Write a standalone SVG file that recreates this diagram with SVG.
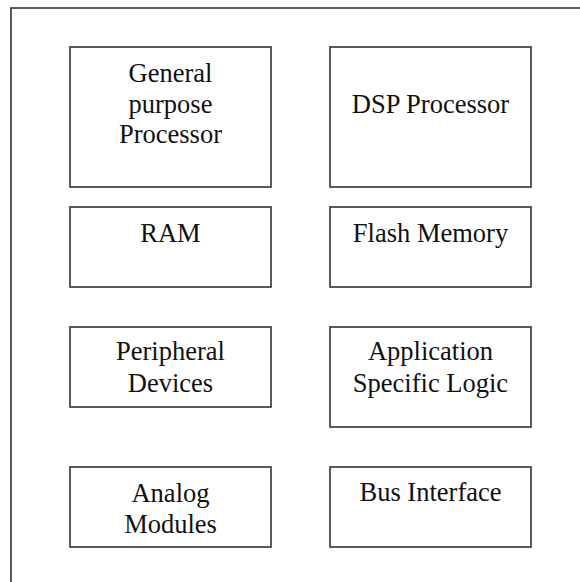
<svg xmlns="http://www.w3.org/2000/svg" width="580" height="582" viewBox="0 0 580 582">
<style>
.frame{fill:none;stroke:#333;stroke-width:1.6}
.box{fill:#fff;stroke:#333;stroke-width:1.6}
.t{font-family:"Liberation Serif","Times New Roman",serif;font-size:26.5px;fill:#111;text-anchor:middle}
</style>
<rect x="0" y="0" width="580" height="582" fill="#fff"/>
<rect class="frame" x="11" y="8" width="600" height="600"/>
<g id="connectors"></g>
<g id="gpp"><rect class="box" x="70" y="47" width="201" height="140"/>
<text class="t" x="170.5" y="82">General</text><text class="t" x="170.5" y="112.5">purpose</text><text class="t" x="170.5" y="143">Processor</text></g>
<g id="dsp"><rect class="box" x="330" y="47" width="201" height="140"/>
<text class="t" x="430.5" y="112.5">DSP Processor</text></g>
<g id="ram"><rect class="box" x="70" y="207" width="201" height="80"/>
<text class="t" x="170.5" y="241.5">RAM</text></g>
<g id="flash"><rect class="box" x="330" y="207" width="201" height="80"/>
<text class="t" x="430.5" y="241.5">Flash Memory</text></g>
<g id="periph"><rect class="box" x="70" y="327" width="201" height="80"/>
<text class="t" x="170.5" y="360">Peripheral</text><text class="t" x="170.5" y="391.5">Devices</text></g>
<g id="asl"><rect class="box" x="330" y="327" width="201" height="100"/>
<text class="t" x="430.5" y="360">Application</text><text class="t" x="430.5" y="391.5">Specific Logic</text></g>
<g id="analog"><rect class="box" x="70" y="467" width="201" height="80"/>
<text class="t" x="170.5" y="502">Analog</text><text class="t" x="170.5" y="533">Modules</text></g>
<g id="bus"><rect class="box" x="330" y="467" width="201" height="80"/>
<text class="t" x="430.5" y="501">Bus Interface</text></g>
</svg>
